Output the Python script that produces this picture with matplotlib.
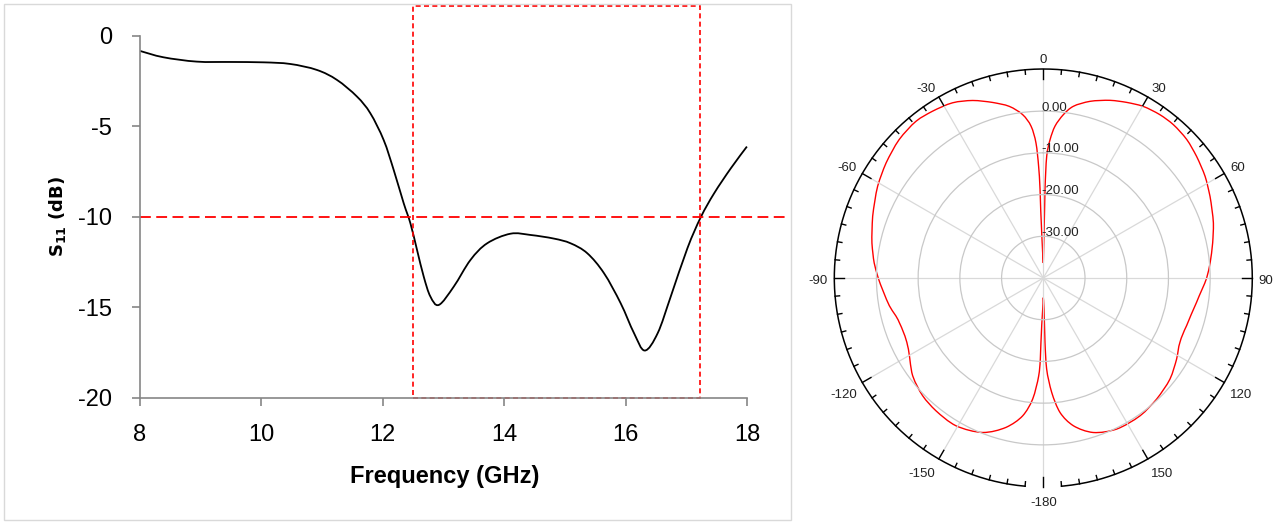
import numpy as np
import matplotlib
matplotlib.use("Agg")
import matplotlib.pyplot as plt
from matplotlib.patches import Rectangle, PathPatch
from matplotlib.path import Path
from matplotlib.transforms import offset_copy

# S11 curve
freq = [8.0, 8.385, 8.935, 9.485, 10.035, 10.475, 10.915, 11.245, 11.575, 11.795,
        12.015, 12.18, 12.345, 12.455, 12.565, 12.675, 12.785, 12.925, 13.17, 13.445,
        13.72, 14.105, 14.435, 14.82, 15.095, 15.37, 15.645, 15.92, 16.14, 16.317,
        16.53, 16.745, 17.02, 17.24, 17.46, 17.735, 18.0]
s11 = [-0.84, -1.19, -1.43, -1.45, -1.47, -1.56, -1.89, -2.44, -3.36, -4.28,
       -5.76, -7.41, -9.25, -10.35, -11.83, -13.30, -14.40, -14.86, -13.85, -12.38,
       -11.46, -10.93, -11.0, -11.2, -11.46, -12.01, -13.11, -14.77, -16.42, -17.38,
       -16.42, -14.40, -11.73, -10.02, -8.70, -7.32, -6.12]
threshold = -10
band = [12.5, 17.22]
xticks = [8, 10, 12, 14, 16, 18]
yticks = [-20, -15, -10, -5, 0]

# radiation pattern (deg, dB)
pat_deg = [-180, -178.1, -177.9, -177.3, -175.0, -171.5, -166.0, -158.6, -149.4, -141.0,
           -134.3, -126.8, -116.5, -107.1, -100.2, -90.0, -84.9, -78.5, -70.1, -61.0,
           -53.8, -46.2, -39.1, -33.6, -27.4, -21.7, -16.1, -11.2, -7.2, -4.6,
           -3.1, -2.4, -2.1, -2.0, 0.0,
           1.0, 1.1, 1.6, 2.8, 4.4, 7.0, 9.9, 14.8, 20.6, 25.4,
           30.2, 35.5, 40.3, 46.0, 51.6, 57.9, 63.9, 72.1, 78.3, 84.9,
           90.0, 99.0, 108.4, 115.2, 121.3, 128.6, 136.9, 144.9, 154.1, 162.1,
           168.5, 172.9, 175.8, 177.9, 178.5, 178.7, 180]
pat_db = [-35.3, -28.6, -20.6, -16.5, -10.9, -6.6, -3.1, -0.22, 1.15, 0.93,
          0.41, -0.89, -3.65, -3.86, -2.5, -0.43, 0.7, 1.92, 3.5, 5.4,
          6.7, 7.9, 8.4, 8.0, 7.3, 5.8, 3.8, 1.94, -0.53, -3.5,
          -7.6, -13.2, -18.8, -29.2, -36.4,
          -26.8, -18.8, -10.8, -6.8, -3.5, -0.55, 1.77, 3.8, 5.5, 6.6,
          7.6, 8.1, 8.2, 7.8, 6.9, 5.8, 4.5, 2.85, 1.46, 0.14,
          -0.84, -2.8, -3.8, -3.8, -2.6, -1.15, -0.24, 0.36, 0.26, -1.08,
          -3.86, -7.5, -12.5, -18.2, -24.6, -32.6, -35.3]
r_rings = [-30, -20, -10, 0]
ang_ticks = [0, 30, 60, 90, 120, 150, 180, -150, -120, -90, -60, -30]
ang_labels = ['0', '30', '60', '90', '120', '150', '-180', '-150', '-120', '-90', '-60', '-30']
r_min, r_max = -40, 10.1


def smooth_path(x, y):
    # catmull-rom through the points, as bezier segments (like excel's smoothed line)
    x = np.asarray(x, float)
    y = np.asarray(y, float)
    verts = [(x[0], y[0])]
    codes = [Path.MOVETO]
    n = len(x)
    for i in range(n - 1):
        x0, y0 = (x[i - 1], y[i - 1]) if i > 0 else (x[i], y[i])
        x3, y3 = (x[i + 2], y[i + 2]) if i < n - 2 else (x[i + 1], y[i + 1])
        c1 = (x[i] + (x[i + 1] - x0) / 6, y[i] + (y[i + 1] - y0) / 6)
        c2 = (x[i + 1] - (x3 - x[i]) / 6, y[i + 1] - (y3 - y[i]) / 6)
        verts += [c1, c2, (x[i + 1], y[i + 1])]
        codes += [Path.CURVE4] * 3
    return Path(verts, codes)


W, H = 1281, 522
fig = plt.figure(figsize=(W / 100, H / 100), dpi=100)

tick_font = ['Liberation Sans Narrow', 'Liberation Sans', 'DejaVu Sans']
spine_col = '#868686'

# ---- left: S11 ----
ax1 = fig.add_axes([140 / W, 1 - 398 / H, 650 / W, 392 / H])
ax1.set_xlim(8, 18.71)
ax1.set_ylim(-20, 1.64)
for s in ['top', 'right']:
    ax1.spines[s].set_visible(False)
ax1.spines['left'].set_bounds(-20, 0)
ax1.spines['bottom'].set_bounds(8, 18)
for s in ['left', 'bottom']:
    ax1.spines[s].set_color(spine_col)
    ax1.spines[s].set_linewidth(1.2)

ax1.add_patch(PathPatch(smooth_path(freq, s11), fill=False, ec='black', lw=1.3))
ax1.axhline(threshold, color='#ff0000', lw=1.3, ls=(0, (6, 3)))
ax1.axvspan(band[0], band[1], fill=False, ec='#ff0000', lw=1.2, ls=(0, (3, 2)),
            clip_on=False)

ax1.set_xticks(xticks)
ax1.set_xticklabels([str(v) for v in xticks])
ax1.set_yticks(yticks)
ax1.set_yticklabels([str(v) for v in yticks])
ax1.tick_params(axis='both', direction='out', length=6, width=1.2, color=spine_col,
                labelsize=17, labelcolor='black')
ax1.tick_params(axis='y', pad=14)
ax1.tick_params(axis='x', pad=13)
for lab in ax1.get_xticklabels() + ax1.get_yticklabels():
    lab.set_family(tick_font)
ax1.set_xlabel('Frequency (GHz)', fontsize=17, fontweight='bold', family=tick_font)
ax1.set_ylabel(r'$\mathbf{S_{11}}$ (dB)', fontsize=13, fontweight='bold',
               family='DejaVu Sans')
# centre the titles on the drawn axis lines, not on the whole axes box
ax1.xaxis.set_label_coords(0.469, -0.170)
ax1.yaxis.set_label_coords(-0.111, 0.462)

fig.add_artist(Rectangle((4 / W, 2 / H), 787 / W, 516 / H, transform=fig.transFigure,
                         fill=False, ec='#d9d9d9', lw=1))

# ---- right: polar pattern ----
ax2 = fig.add_axes([834.3 / W, 1 - 487 / H, 418 / W, 418 / H], projection='polar')
ax2.set_theta_zero_location('N')
ax2.set_theta_direction(-1)
ax2.set_ylim(r_min, r_max)
ax2.spines['polar'].set_visible(False)
ax2.set_yticks(r_rings)
ax2.set_yticklabels([])
ax2.set_xticks(np.radians(np.arange(0, 360, 30)))
ax2.set_xticklabels([])
ax2.tick_params(axis='x', length=0)
ax2.xaxis.grid(True, which='major', color='#d9d9d9', lw=0.9)
ax2.yaxis.grid(True, color='#c8c8c8', lw=0.9)

# outer ring with a gap under the -180 label, and inward ticks every 5 deg
ring = np.radians(np.linspace(-175, 175, 500))
ax2.plot(ring, np.full_like(ring, r_max), color='black', lw=1.1, clip_on=False)
px_per_db = 209 / (r_max - r_min)
for a in range(0, 360, 5):
    L = (10 if a % 30 == 0 else 4.5) / px_per_db
    th = np.radians(a)
    ax2.plot([th, th], [r_max, r_max - L], color='black', lw=1.0, clip_on=False)

ax2.add_patch(PathPatch(smooth_path(np.radians(pat_deg), pat_db), fill=False,
                        ec='#ff0000', lw=1.0))

rtrans = offset_copy(ax2.transData, fig=fig, x=-2.3, y=0, units='dots')
for r in r_rings:
    ax2.text(0, r + 0.85, '%.2f' % r, ha='left', va='center', fontsize=9.5,
             family='Liberation Sans', color='#222222', transform=rtrans)

atrans = offset_copy(ax2.transData, fig=fig, x=0, y=-3.5, units='dots')
for a, lab in zip(ang_ticks, ang_labels):
    s, c = np.sin(np.radians(a)), np.cos(np.radians(a))
    ha = 'left' if s > 0.3 else ('right' if s < -0.3 else 'center')
    va = 'bottom' if c > 0.3 else ('top' if c < -0.3 else 'center')
    ax2.text(np.radians(a), r_max + 6.5 / px_per_db, lab, ha=ha, va=va, fontsize=9.5,
             family='Liberation Sans', color='#222222', clip_on=False, transform=atrans)

fig.savefig('out.png', dpi=100)
